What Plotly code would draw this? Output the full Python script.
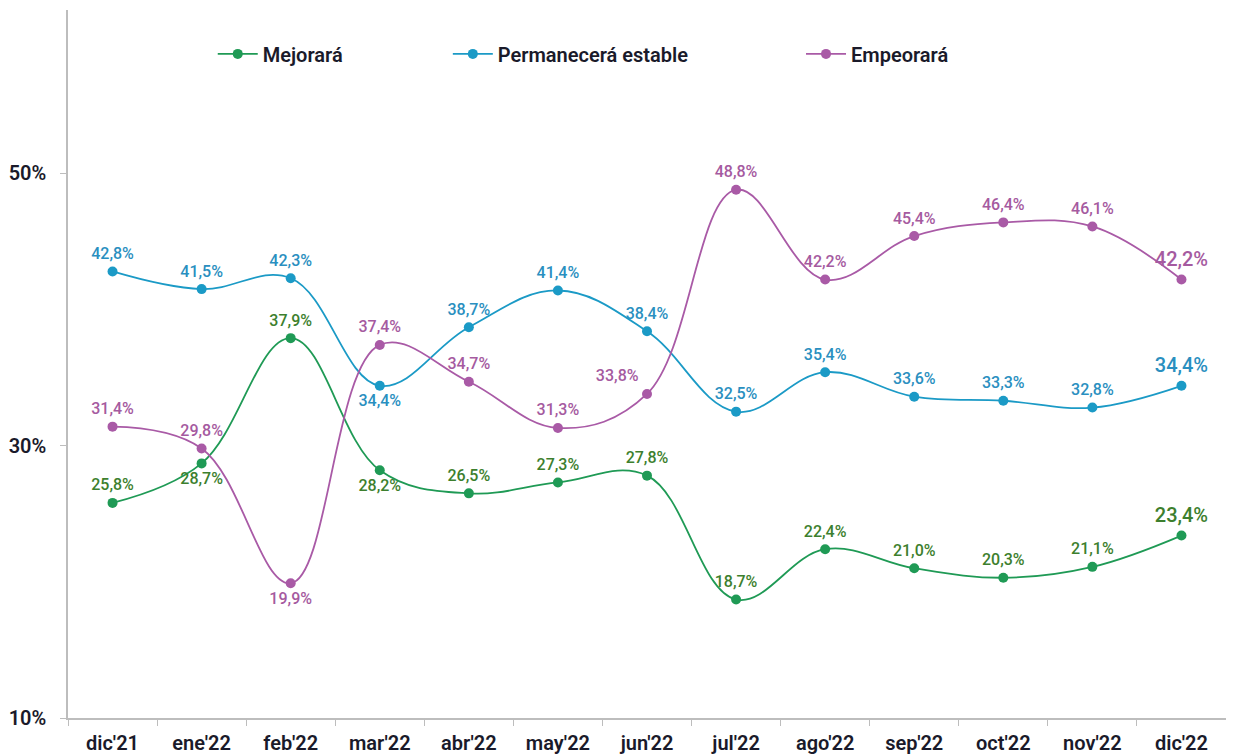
import plotly.graph_objects as go

# ── Data ─────────────────────────────────────────────────────
MESES = ["dic'21", "ene'22", "feb'22", "mar'22", "abr'22", "may'22", "jun'22",
         "jul'22", "ago'22", "sep'22", "oct'22", "nov'22", "dic'22"]
MEJORARA = [25.8, 28.7, 37.9, 28.2, 26.5, 27.3, 27.8, 18.7, 22.4, 21.0, 20.3, 21.1, 23.4]
ESTABLE = [42.8, 41.5, 42.3, 34.4, 38.7, 41.4, 38.4, 32.5, 35.4, 33.6, 33.3, 32.8, 34.4]
EMPEORARA = [31.4, 29.8, 19.9, 37.4, 34.7, 31.3, 33.8, 48.8, 42.2, 45.4, 46.4, 46.1, 42.2]

POS_MEJ = ["top center", "bottom center", "top center", "bottom center"] + ["top center"] * 9
POS_EST = ["top center"] * 3 + ["bottom center"] + ["top center"] * 9
POS_EMP = ["top center", "top center", "bottom center", "top center", "top center",
           "top center", "top left"] + ["top center"] * 6

# ── Styles ───────────────────────────────────────────────────
FONT_FAM = "Roboto, sans-serif"
TXT = "#1a1a2a"
SERIES = [
    ("Mejorará", MEJORARA, POS_MEJ, "#1f9a55", "#3d7f2e", "legend"),
    ("Permanecerá estable", ESTABLE, POS_EST, "#1b9ac6", "#2a8fc0", "legend2"),
    ("Empeorará", EMPEORARA, POS_EMP, "#a95aa6", "#a55aa0", "legend3"),
]


def fmt(v):
    return f"{v:.1f}".replace(".", ",") + "%"


fig = go.Figure()
for name, vals, pos, col, tcol, leg in SERIES:
    fig.add_trace(go.Scatter(
        x=MESES, y=vals, name=name, mode="lines+markers",
        line=dict(color=col, width=1.8, shape="spline", smoothing=1.1),
        marker=dict(color=col, size=10),
        legend=leg,
    ))
    sizes = [16] * (len(vals) - 1) + [20]
    # label layer; invisible markers keep the text clear of the dots
    fig.add_trace(go.Scatter(
        x=MESES, y=vals, mode="markers+text", showlegend=False,
        marker=dict(size=12, opacity=0),
        text=[fmt(v) for v in vals], textposition=pos,
        textfont=dict(family=FONT_FAM, color=tcol, size=sizes, weight=500),
        hoverinfo="skip",
    ))

legend_common = dict(orientation="h", yanchor="middle", y=0.938, xanchor="left",
                     bgcolor="rgba(0,0,0,0)", itemwidth=40,
                     font=dict(family=FONT_FAM, size=20, color=TXT, weight=600))
# page body adds an 8px margin, so the figure is sized to fit the window
fig.update_layout(
    width=1226, height=748,
    paper_bgcolor="white", plot_bgcolor="white",
    margin=dict(l=60, r=8, t=2, b=38),
    font=dict(family=FONT_FAM, color=TXT),
    legend=dict(x=0.125, **legend_common),
    legend2=dict(x=0.328, **legend_common),
    legend3=dict(x=0.633, **legend_common),
    xaxis=dict(
        type="category", range=[-0.5, 12.5], showgrid=False, zeroline=False,
        showline=True, linecolor="#bdbdbd", linewidth=1.5, automargin=False,
        ticks="outside", ticklen=6, tickcolor="#bdbdbd", tickson="boundaries",
        ticklabelstandoff=6,
        tickfont=dict(family=FONT_FAM, size=20, color=TXT, weight=600),
    ),
    yaxis=dict(
        range=[10, 62], tickvals=[10, 30, 50], ticktext=["10%", "30%", "50%"],
        showgrid=False, zeroline=False, automargin=False,
        showline=True, linecolor="#bdbdbd", linewidth=1.5,
        ticks="outside", ticklen=6, tickcolor="#bdbdbd", ticklabelstandoff=10,
        tickfont=dict(family=FONT_FAM, size=20, color=TXT, weight=600),
    ),
)

fig.write_html("out.html")
